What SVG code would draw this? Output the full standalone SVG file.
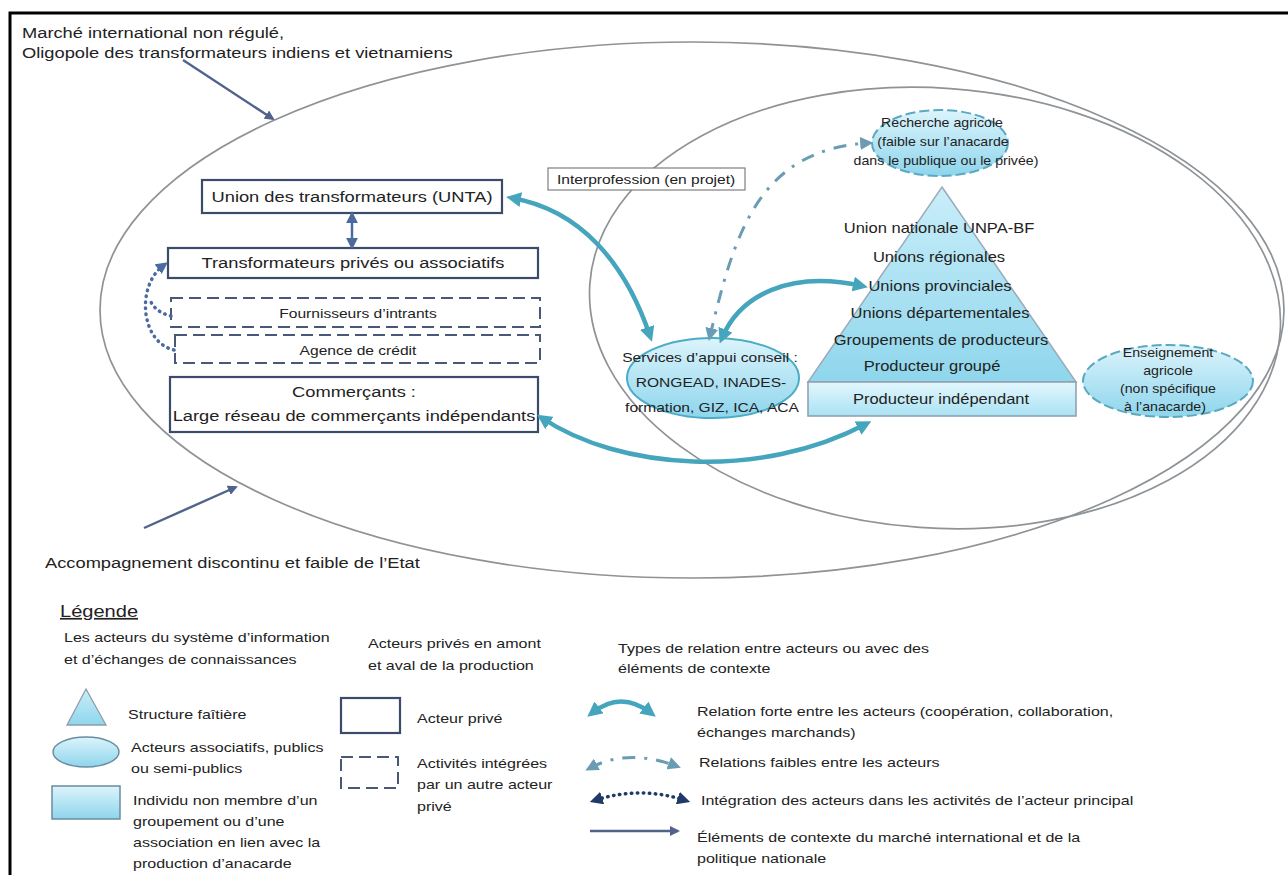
<svg xmlns="http://www.w3.org/2000/svg" width="1288" height="875" viewBox="0 0 1288 875">
<style>
text{font-family:"Liberation Sans",Arial,sans-serif;fill:#222}
.t15{font-size:15.5px}
.t14{font-size:14px}
.t13{font-size:13.2px}
.t12{font-size:12px}
.lg{font-size:13.6px}
.mid{text-anchor:middle}
.box{fill:#fff;stroke:#3c4a6b;stroke-width:2.2}
.dbox{fill:#fff;stroke:#4a5878;stroke-width:2;stroke-dasharray:12 6}
.ctx{fill:none;stroke:#8e9397;stroke-width:1.7}
.strong{fill:none;stroke:#45a5bd;stroke-width:4.5}
.weak{fill:none;stroke:#6a9db3;stroke-width:3;stroke-dasharray:13 9 3 9}
.dots{fill:none;stroke:#4a6aa0;stroke-width:3.5;stroke-dasharray:0.5 5.5;stroke-linecap:round}
.navy{fill:none;stroke:#1f3a66;stroke-width:3.5;stroke-dasharray:0.5 5.5;stroke-linecap:round}
.cline{fill:none;stroke:#50638a;stroke-width:2.4}
.bl{fill:url(#gBlue);stroke:#4bacc6;stroke-width:2}
.bld{fill:url(#gBlue);stroke:#5aa9c0;stroke-width:2;stroke-dasharray:10 4}
</style>
<defs>
<linearGradient id="gBlue" x1="0" y1="0" x2="0" y2="1"><stop offset="0" stop-color="#dcf4fc"/><stop offset="1" stop-color="#8ed5ec"/></linearGradient>
<linearGradient id="gPyr" x1="0" y1="0" x2="0" y2="1"><stop offset="0" stop-color="#c9eef9"/><stop offset="1" stop-color="#8fd6ec"/></linearGradient>
<linearGradient id="gRect" x1="0" y1="0" x2="0" y2="1"><stop offset="0" stop-color="#e4f7fd"/><stop offset="1" stop-color="#a9e2f3"/></linearGradient>
<marker id="aT" viewBox="0 0 10 10" refX="6" refY="5" markerWidth="15" markerHeight="15" markerUnits="userSpaceOnUse" orient="auto-start-reverse"><path d="M0,0 L10,5 L0,10 z" fill="#45a5bd"/></marker>
<marker id="aW" viewBox="0 0 10 10" refX="6" refY="5" markerWidth="13" markerHeight="13" markerUnits="userSpaceOnUse" orient="auto-start-reverse"><path d="M0,0 L10,5 L0,10 z" fill="#6a9db3"/></marker>
<marker id="aB" viewBox="0 0 10 10" refX="6" refY="5" markerWidth="12" markerHeight="12" markerUnits="userSpaceOnUse" orient="auto-start-reverse"><path d="M0,0 L10,5 L0,10 z" fill="#4a6aa0"/></marker>
<marker id="aN" viewBox="0 0 10 10" refX="5" refY="5" markerWidth="13" markerHeight="13" markerUnits="userSpaceOnUse" orient="auto-start-reverse"><path d="M0,0 L10,5 L0,10 z" fill="#1f3a66"/></marker>
<marker id="aC" viewBox="0 0 10 10" refX="8" refY="5" markerWidth="10" markerHeight="10" markerUnits="userSpaceOnUse" orient="auto"><path d="M0,0 L10,5 L0,10 z" fill="#50638a"/></marker>
</defs>
<rect x="10" y="13" width="1300" height="900" fill="#fff" stroke="#000" stroke-width="3"/>

<g id="context">
<ellipse class="ctx" cx="692" cy="310" rx="592" ry="268"/>
<ellipse class="ctx" cx="935" cy="308" rx="346" ry="220" transform="rotate(4 935 308)"/>
<text class="t15" transform="matrix(1.18 0 0 1 22 38)">Marché international non régulé,</text>
<text class="t15" transform="matrix(1.18 0 0 1 22 58)">Oligopole des transformateurs indiens et vietnamiens</text>
<text class="t15" transform="matrix(1.18 0 0 1 45 568)">Accompagnement discontinu et faible de l’Etat</text>
</g>

<g id="node-unta"><rect class="box" x="202" y="180" width="300" height="33"/><text class="t15 mid" transform="matrix(1.18 0 0 1 352 202)">Union des transformateurs (UNTA)</text></g>
<g id="node-transfo"><rect class="box" x="168" y="248" width="370" height="30"/><text class="t15 mid" transform="matrix(1.18 0 0 1 353 268)">Transformateurs privés ou associatifs</text></g>
<g id="node-fourn"><rect class="dbox" x="171" y="298" width="369" height="29"/><text class="t13 mid" transform="matrix(1.18 0 0 1 358 318)">Fournisseurs d’intrants</text></g>
<g id="node-credit"><rect class="dbox" x="175" y="335" width="365" height="28"/><text class="t13 mid" transform="matrix(1.18 0 0 1 358 355)">Agence de crédit</text></g>
<g id="node-comm"><rect class="box" x="170" y="377" width="368" height="55"/><text class="t15 mid" transform="matrix(1.18 0 0 1 354 397)">Commerçants :</text><text class="t15 mid" transform="matrix(1.18 0 0 1 354 421)">Large réseau de commerçants indépendants</text></g>
<g id="node-interpro"><rect x="548" y="168" width="197" height="22" fill="#fff" stroke="#7f7f7f" stroke-width="1.2"/><text class="t13" transform="matrix(1.18 0 0 1 557 184)">Interprofession (en projet)</text></g>

<g id="node-services"><ellipse class="bl" cx="713" cy="378" rx="86" ry="40"/><text class="t13 mid" transform="matrix(1.18 0 0 1 710 362)">Services d’appui  conseil :</text><text class="t13 mid" transform="matrix(1.18 0 0 1 711 387)">RONGEAD, INADES-</text><text class="t13 mid" transform="matrix(1.18 0 0 1 712 412)">formation, GIZ, ICA, ACA</text></g>
<g id="node-recherche"><ellipse class="bld" cx="940" cy="143" rx="68" ry="33"/><text class="t12 mid" transform="matrix(1.18 0 0 1 942 127)">Recherche agricole</text><text class="t12 mid" transform="matrix(1.18 0 0 1 943 146)">(faible sur l’anacarde</text><text class="t12 mid" transform="matrix(1.18 0 0 1 946 165)">dans le publique ou le privée)</text></g>
<g id="node-pyramide"><path d="M942,187 L1076,382 L808,382 Z" fill="url(#gPyr)" stroke="#9aabba" stroke-width="1.5"/><rect x="808" y="382" width="268" height="34" fill="url(#gRect)" stroke="#8d9dad" stroke-width="1.5"/>
<text class="t14 mid" transform="matrix(1.18 0 0 1 939 233)">Union nationale UNPA-BF</text>
<text class="t14 mid" transform="matrix(1.18 0 0 1 939 262)">Unions régionales</text>
<text class="t14 mid" transform="matrix(1.18 0 0 1 940 291)">Unions provinciales</text>
<text class="t14 mid" transform="matrix(1.18 0 0 1 940 318)">Unions départementales</text>
<text class="t14 mid" transform="matrix(1.18 0 0 1 941 345)">Groupements de producteurs</text>
<text class="t14 mid" transform="matrix(1.18 0 0 1 932 371)">Producteur groupé</text>
<text class="t14 mid" transform="matrix(1.18 0 0 1 941 404)">Producteur indépendant</text></g>
<g id="node-enseignement"><ellipse class="bld" cx="1168" cy="381" rx="85" ry="36"/><text class="t12 mid" transform="matrix(1.18 0 0 1 1168 357)">Enseignement</text><text class="t12 mid" transform="matrix(1.18 0 0 1 1168 375)">agricole</text><text class="t12 mid" transform="matrix(1.18 0 0 1 1168 393)">(non spécifique</text><text class="t12 mid" transform="matrix(1.18 0 0 1 1165 411)">à l’anacarde)</text></g>

<g id="connectors">
<path class="strong" d="M512,198 C580,210 625,262 650,336" marker-start="url(#aT)" marker-end="url(#aT)"/>
<path class="strong" d="M722,338 C740,295 790,270 862,286" marker-start="url(#aT)" marker-end="url(#aT)"/>
<path class="strong" d="M542,418 C620,470 760,480 866,424" marker-start="url(#aT)" marker-end="url(#aT)"/>
<path class="weak" d="M710,336 C735,230 760,150 868,143" marker-start="url(#aW)" marker-end="url(#aW)"/>
<path d="M352,216 L352,245" fill="none" stroke="#4a6aa0" stroke-width="2.5" marker-start="url(#aB)" marker-end="url(#aB)"/>
<path class="dots" d="M174,350 C140,342 136,285 164,265" marker-end="url(#aB)"/>
<path class="dots" d="M171,316 Q155,312 150,300"/>
<path class="cline" d="M183,60 L273,119" marker-end="url(#aC)"/>
<path class="cline" d="M144,528 L236,487" marker-end="url(#aC)"/>
</g>

<g id="legend">
<text font-size="17" text-decoration="underline" transform="matrix(1.18 0 0 1 60 617)">Légende</text>
<text class="lg" transform="matrix(1.18 0 0 1 64 642)">Les acteurs du système d’information</text>
<text class="lg" transform="matrix(1.18 0 0 1 64 664)">et d’échanges de connaissances</text>
<text class="lg" transform="matrix(1.18 0 0 1 368 648)">Acteurs privés en amont</text>
<text class="lg" transform="matrix(1.18 0 0 1 368 670)">et aval de la production</text>
<text class="lg" transform="matrix(1.18 0 0 1 618 653)">Types de relation entre acteurs ou avec des</text>
<text class="lg" transform="matrix(1.18 0 0 1 618 673)">éléments de contexte</text>

<path d="M86,689 L106,725 L67,725 Z" fill="url(#gPyr)" stroke="#8d9dad" stroke-width="1.3"/>
<text class="lg" transform="matrix(1.18 0 0 1 128 719)">Structure faîtière</text>
<ellipse cx="86" cy="752" rx="33" ry="15" fill="url(#gBlue)" stroke="#6a8ca0" stroke-width="1.5"/>
<text class="lg" transform="matrix(1.18 0 0 1 131 752)">Acteurs associatifs, publics</text>
<text class="lg" transform="matrix(1.18 0 0 1 131 773)">ou semi-publics</text>
<rect x="52" y="786" width="68" height="33" fill="url(#gBlue)" stroke="#6a8ca0" stroke-width="1.5"/>
<text class="lg" transform="matrix(1.18 0 0 1 133 805)">Individu non membre d’un</text>
<text class="lg" transform="matrix(1.18 0 0 1 133 826)">groupement ou d’une</text>
<text class="lg" transform="matrix(1.18 0 0 1 133 847)">association en lien avec la</text>
<text class="lg" transform="matrix(1.18 0 0 1 133 868)">production d’anacarde</text>

<rect class="box" x="341" y="698" width="59" height="35" stroke-width="2"/>
<text class="lg" transform="matrix(1.18 0 0 1 417 723)">Acteur privé</text>
<rect class="dbox" x="341" y="757" width="57" height="31" stroke-dasharray="9 5"/>
<text class="lg" transform="matrix(1.18 0 0 1 417 768)">Activités intégrées</text>
<text class="lg" transform="matrix(1.18 0 0 1 417 789)">par un autre acteur</text>
<text class="lg" transform="matrix(1.18 0 0 1 417 811)">privé</text>

<path class="strong" d="M592,713 Q621,690 651,713" marker-start="url(#aT)" marker-end="url(#aT)"/>
<text class="lg" transform="matrix(1.18 0 0 1 697 716)">Relation forte entre les acteurs (coopération, collaboration,</text>
<text class="lg" transform="matrix(1.18 0 0 1 697 737)">échanges marchands)</text>
<path class="weak" d="M590,768 Q628,748 676,766" marker-start="url(#aW)" marker-end="url(#aW)"/>
<text class="lg" transform="matrix(1.18 0 0 1 699 767)">Relations faibles entre les acteurs</text>
<path class="navy" d="M596,800 Q640,786 684,800" marker-start="url(#aN)" marker-end="url(#aN)"/>
<text class="lg" transform="matrix(1.18 0 0 1 701 805)">Intégration des acteurs dans les activités de l’acteur principal</text>
<path class="cline" d="M590,831 L678,831" marker-end="url(#aC)"/>
<text class="lg" transform="matrix(1.18 0 0 1 697 842)">Éléments de contexte du marché international et de la</text>
<text class="lg" transform="matrix(1.18 0 0 1 697 863)">politique nationale</text>
</g>
</svg>
